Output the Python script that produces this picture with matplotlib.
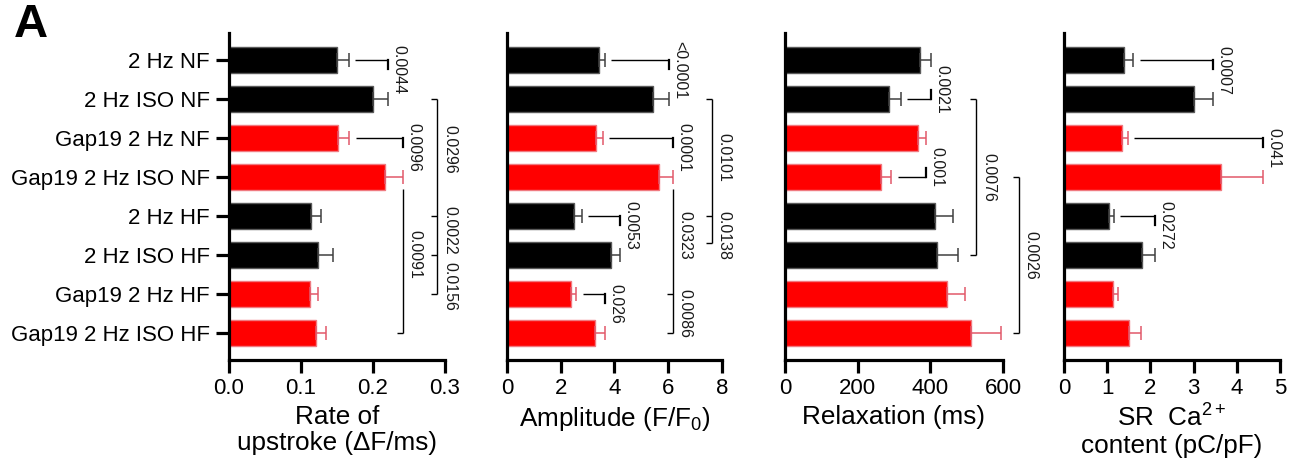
import matplotlib
matplotlib.use('Agg')
import matplotlib.pyplot as plt

plt.rcParams['font.family'] = ['Liberation Sans', 'DejaVu Sans']
plt.rcParams['mathtext.fontset'] = 'custom'
plt.rcParams['mathtext.rm'] = 'Liberation Sans'
plt.rcParams['mathtext.it'] = 'Liberation Sans:italic'
plt.rcParams['mathtext.bf'] = 'Liberation Sans:bold'
plt.rcParams['mathtext.default'] = 'regular'

# ---------------- data ----------------
groups = ['2 Hz NF', '2 Hz ISO NF', 'Gap19 2 Hz NF', 'Gap19 2 Hz ISO NF',
          '2 Hz HF', '2 Hz ISO HF', 'Gap19 2 Hz HF', 'Gap19 2 Hz ISO HF']
is_gap19 = [False, False, True, True, False, False, True, True]

rate_mean = [0.150, 0.200, 0.151, 0.217, 0.114, 0.123, 0.112, 0.121]
rate_err = [0.016, 0.021, 0.016, 0.024, 0.014, 0.022, 0.012, 0.014]

amp_mean = [3.42, 5.43, 3.31, 5.65, 2.49, 3.87, 2.38, 3.27]
amp_err = [0.22, 0.59, 0.26, 0.52, 0.29, 0.33, 0.19, 0.37]

relax_mean = [372, 286, 366, 264, 413, 419, 445, 512]
relax_err = [30, 33, 22, 28, 50, 57, 50, 83]

sr_mean = [1.39, 3.01, 1.34, 3.63, 1.04, 1.81, 1.13, 1.50]
sr_err = [0.21, 0.44, 0.14, 0.98, 0.11, 0.30, 0.12, 0.28]

# short brackets between neighbouring rows: (row a, row b, p value)
rate_pairs = [(0, 1, '0.0044'), (2, 3, '0.0096')]
amp_pairs = [(0, 1, '<0.0001'), (2, 3, '0.0001'), (4, 5, '0.0053'), (6, 7, '0.026')]
relax_pairs = [(0, 1, '0.0021'), (2, 3, '0.001')]
sr_pairs = [(0, 1, '0.0007'), (2, 3, '0.041'), (4, 5, '0.0272')]

# long brackets: (rows, p values, x position or None = at cap of first row,
#                 row positions of the p values or None = midway)
rate_long = [([3, 7], ['0.0091'], None, None),
             ([1, 4, 5, 6], ['0.0296', '0.0022', '0.0156'], 0.289, [2.3, 4.38, 5.82])]
amp_long = [([3, 6, 7], ['0.0323', '0.0086'], None, None),
            ([1, 4, 4.7], ['0.0101', '0.0138'], 7.62, [2.5, 4.5])]
relax_long = [([1, 5], ['0.0076'], 526, None),
              ([3, 7], ['0.0026'], 644, None)]
sr_long = []

rate_ticks = [0.0, 0.1, 0.2, 0.3]
rate_ticklabels = ['0.0', '0.1', '0.2', '0.3']
amp_ticks = [0, 2, 4, 6, 8]
relax_ticks = [0, 200, 400, 600]
sr_ticks = [0, 1, 2, 3, 4, 5]

# ---------------- figure ----------------
W, H = 1303, 468
fig = plt.figure(figsize=(W / 100, H / 100), dpi=100)

BLACK_FACE, BLACK_EDGE, BLACK_ERR = '#000000', '#5a5a5a', '#404040'
RED_FACE, RED_EDGE, RED_ERR = '#ff0000', '#f07a80', '#e2586a'


def px_axes(l, r, t, b):
    return fig.add_axes([l / W, 1 - b / H, (r - l) / W, (b - t) / H])


def panel(axpx, means, errs, xmax, ticks, ticklabels, xlabel, pairs, longs, show_y):
    ax = px_axes(*axpx)
    n = len(means)
    ys = list(range(n))
    faces = [RED_FACE if g else BLACK_FACE for g in is_gap19]
    edges = [RED_EDGE if g else BLACK_EDGE for g in is_gap19]
    ax.barh(ys, means, height=0.67, color=faces, edgecolor=edges, linewidth=1.0, zorder=2)
    for i in range(n):
        ax.errorbar(means[i], i, xerr=[[0], [errs[i]]], fmt='none',
                    ecolor=RED_ERR if is_gap19[i] else BLACK_ERR,
                    elinewidth=1.1, capsize=4.8, capthick=1.1, zorder=3)
    ax.set_xlim(0, xmax)
    ax.set_ylim(7.7, -0.7)
    ax.set_xticks(ticks)
    if ticklabels is not None:
        ax.set_xticklabels(ticklabels)
    ax.spines['top'].set_visible(False)
    ax.spines['right'].set_visible(False)
    for s in ('left', 'bottom'):
        ax.spines[s].set_linewidth(2.3)
    ax.tick_params(axis='x', direction='out', length=9, width=2.3, pad=4, labelsize=16)
    if show_y:
        ax.set_yticks(ys)
        ax.set_yticklabels(groups)
        ax.tick_params(axis='y', direction='out', length=9.5, width=2.3, pad=4.5, labelsize=16)
    else:
        ax.set_yticks([])
    ax.set_xlabel(xlabel, fontsize=18.8, labelpad=4, linespacing=1.12)

    caps = [m + e for m, e in zip(means, errs)]
    gap = 0.03 * xmax
    lw = 1.0
    kw = dict(color='black', lw=lw, clip_on=False, zorder=4, solid_capstyle='butt')
    tkw = dict(textcoords='offset points', rotation=270, ha='left', va='center',
               fontsize=11.5, color='#1a1a1a', annotation_clip=False)
    # short brackets
    for a, b, lab in pairs:
        h, o = (a, b) if caps[a] <= caps[b] else (b, a)
        X = caps[o]
        ax.plot([caps[h] + gap, X], [h, h], **kw)
        d = 1 if o > h else -1
        ax.plot([X, X], [h, h + d * 0.23], color='black', lw=1.6, clip_on=False, zorder=4)
        ax.annotate(lab, xy=(X, h + d * 0.25), xytext=(2.5, 0), **tkw)
    # long brackets
    tick = 0.027 * xmax
    for rows, labs, X, lab_rows in longs:
        if X is None:
            X = caps[rows[0]]
            y0 = rows[0] + 0.3
            tick_rows = rows[1:]
        else:
            y0 = rows[0]
            tick_rows = rows
        ax.plot([X, X], [y0, rows[-1]], **kw)
        for r in tick_rows:
            ax.plot([X - tick, X], [r, r], **kw)
        for k, lab in enumerate(labs):
            yl = lab_rows[k] if lab_rows is not None else (rows[k] + rows[k + 1]) / 2
            ax.annotate(lab, xy=(X, yl), xytext=(3.5, 0), **tkw)
    return ax


panel((229, 445, 33, 360), rate_mean, rate_err, 0.3, rate_ticks, rate_ticklabels,
      'Rate of\nupstroke (\u0394F/ms)', rate_pairs, rate_long, True)
panel((507, 722, 33, 360), amp_mean, amp_err, 8, amp_ticks, None,
      'Amplitude (F/F$_0$)', amp_pairs, amp_long, False)
panel((785, 1003, 33, 360), relax_mean, relax_err, 600, relax_ticks, None,
      'Relaxation (ms)', relax_pairs, relax_long, False)
panel((1064, 1280, 33, 360), sr_mean, sr_err, 5, sr_ticks, None,
      'SR  Ca$^{2+}$\ncontent (pC/pF)', sr_pairs, sr_long, False)

fig.text(14 / W, 1 - 25 / H, 'A', fontsize=34, fontweight='bold', ha='left', va='center')

fig.savefig('out.png', dpi=100)
